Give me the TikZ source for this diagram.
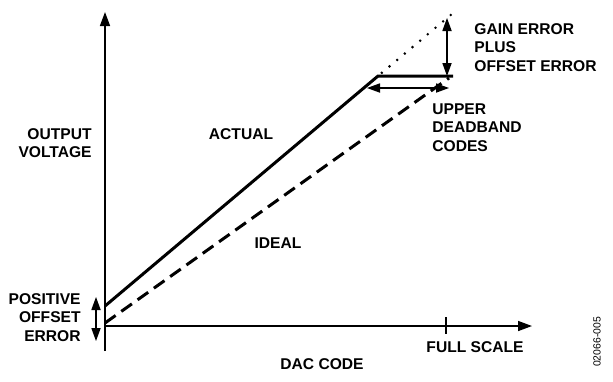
\documentclass[tikz,border=0pt]{standalone}
\usepackage{fontspec}
\setmainfont{Liberation Sans}
\usetikzlibrary{arrows.meta}

\tikzset{
  lbl/.style={inner sep=0pt,font=\fontsize{7.8}{9.3}\selectfont\bfseries},
  axis/.style={line width=0.75pt,-{Triangle[length=7pt,width=5pt]}},
  dimarrow/.style={line width=0.55pt,{Triangle[length=6.5pt,width=4.6pt]}-{Triangle[length=6.5pt,width=4.6pt]}},
  curve/.style={line width=1.5pt}
}

\begin{document}
\begin{tikzpicture}[x=0.5pt,y=-0.5pt]
            \useasboundingbox (0,0) rectangle (613,381);
            % axes
            \coordinate (o) at (105,326);
            \coordinate (ybot) at (105,351);
            \coordinate (ytop) at (105,12);
            \coordinate (xend) at (532,326);
            \draw[axis] (ybot) -- (ytop);
            \draw[axis] (o) -- (xend);
            \coordinate (fs) at (446,317);
            \coordinate (fsb) at (446,334);
            \draw[line width=0.75pt] (fs) -- (fsb);
            % transfer curves
            \coordinate (a0) at (105,306);
            \coordinate (knee) at (378,76);
            \coordinate (a1) at (453,76);
            \coordinate (g) at (452,14);
            \coordinate (i0) at (105,323);
            \coordinate (i1) at (449,78);
            \draw[curve,line join=miter] (a0) -- (knee) -- (a1);
            \draw[line width=1.4pt,line cap=round,dash pattern=on 0pt off 5pt,dash phase=2.5pt] (knee) -- (g);
            \draw[curve,dash pattern=on 6.5pt off 3.5pt] (i0) -- (i1);
            % error arrows
            \coordinate (ga) at (447,18);
            \coordinate (gb) at (447,76);
            \draw[dimarrow] (ga) -- (gb);
            \coordinate (da) at (367,88);
            \coordinate (db) at (449,88);
            \draw[dimarrow] (da) -- (db);
            \coordinate (pa) at (96,297);
            \coordinate (pb) at (96,341);
            \draw[dimarrow] (pa) -- (pb);
            % labels
            \node (yl) at (92,128) [lbl,anchor=north east,align=right] {OUTPUT\\VOLTAGE};
            \node (act) at (241,134) [lbl] {ACTUAL};
            \node (idl) at (278,243) [lbl] {IDEAL};
            \node (gain) at (474,23) [lbl,anchor=north west,align=left] {GAIN ERROR\\PLUS\\OFFSET ERROR};
            \node (udb) at (432,103) [lbl,anchor=north west,align=left] {UPPER\\DEADBAND\\CODES};
            \node (poe) at (81,293) [lbl,anchor=north east,align=right] {POSITIVE\\OFFSET\\ERROR};
            \node (dac) at (322,364) [lbl] {DAC CODE};
            \node (fsl) at (475,347) [lbl] {FULL SCALE};
            \node (fig) at (597,342) [inner sep=0pt,rotate=90,font=\fontsize{5.2}{6}\selectfont] {02066-005};
        \end{tikzpicture}
\end{document}
